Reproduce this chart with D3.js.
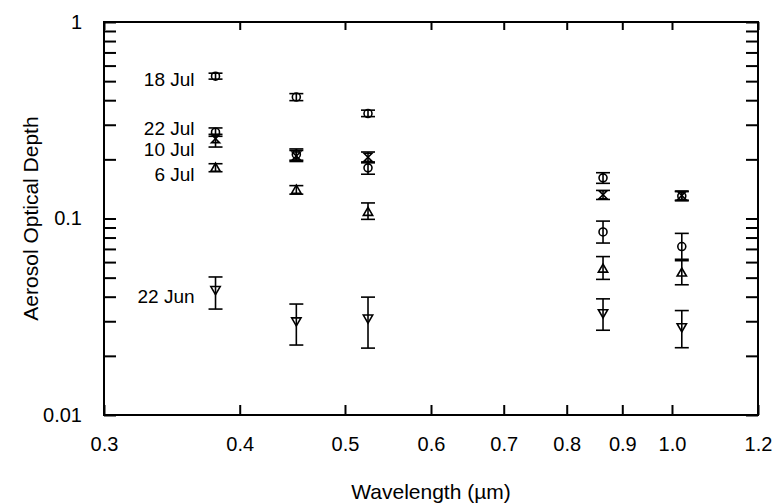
<!DOCTYPE html>
<html>
<head>
<meta charset="utf-8">
<script src="https://cdn.jsdelivr.net/npm/d3@7"></script>
<style>
  body { margin: 0; background: #fff; }
  svg { display: block; font-family: "Liberation Sans", Arial, Helvetica, sans-serif; }
</style>
</head>
<body>
<svg id="chart" width="779" height="504"></svg>
<script>
'use strict';

// sunphotometer channels (um)
const wavelengths = [0.380, 0.451, 0.525, 0.864, 1.021];

const seriesNames = ['18 Jul', '22 Jul', '10 Jul', '6 Jul', '22 Jun'];
const seriesSymbols = ['circle', 'circle', 'hourglass', 'triangleUp', 'triangleDown'];

// aerosol optical depth, with lower / upper error bar ends
const aod18Jul = [0.530, 0.415, 0.342, 0.161, 0.130];
const lo18Jul  = [0.512, 0.398, 0.330, 0.151, 0.124];
const hi18Jul  = [0.549, 0.432, 0.356, 0.171, 0.137];

const aod22Jul = [0.275, 0.212, 0.181, 0.0854, 0.072];
const lo22Jul  = [0.262, 0.198, 0.168, 0.075, 0.062];
const hi22Jul  = [0.289, 0.226, 0.194, 0.097, 0.084];

const aod10Jul = [0.255, 0.208, 0.205, 0.132, 0.131];
const lo10Jul  = [0.231, 0.195, 0.192, 0.125, 0.123];
const hi10Jul  = [0.268, 0.222, 0.218, 0.139, 0.138];

const aod6Jul = [0.181, 0.140, 0.108, 0.0555, 0.053];
const lo6Jul  = [0.173, 0.133, 0.099, 0.049, 0.046];
const hi6Jul  = [0.190, 0.147, 0.120, 0.064, 0.061];

const aod22Jun = [0.0433, 0.0300, 0.0310, 0.0330, 0.0280];
const lo22Jun  = [0.0346, 0.0227, 0.0219, 0.0270, 0.0220];
const hi22Jun  = [0.0504, 0.0367, 0.0398, 0.0390, 0.0340];

const xTickValues = [0.3, 0.4, 0.5, 0.6, 0.7, 0.8, 0.9, 1.0, 1.2];
const xTickLabels = ['0.3', '0.4', '0.5', '0.6', '0.7', '0.8', '0.9', '1.0', '1.2'];
const yTickLabelValues = [1, 0.1, 0.01];
const yTickLabels = ['1', '0.1', '0.01'];

const seriesValues = [aod18Jul, aod22Jul, aod10Jul, aod6Jul, aod22Jun];
const seriesLow = [lo18Jul, lo22Jul, lo10Jul, lo6Jul, lo22Jun];
const seriesHigh = [hi18Jul, hi22Jul, hi10Jul, hi6Jul, hi22Jun];

const margin = {top: 22, right: 21, bottom: 89, left: 104};
const width = 779, height = 504;

const svg = d3.select('#chart');

const x = d3.scaleLog().domain([0.3, 1.2]).range([margin.left, width - margin.right]);
const y = d3.scaleLog().domain([0.01, 1]).range([height - margin.bottom, margin.top]);

// custom symbol shapes
const hourglass = {
    draw(context, size) {
        const r = Math.sqrt(size) / 2;
        context.moveTo(-r, -r);
        context.lineTo(r, -r);
        context.lineTo(-r, r);
        context.lineTo(r, r);
        context.closePath();
    }
};
const triangleDown = {
    draw(context, size) {
        const r = Math.sqrt(size) / 2;
        context.moveTo(-r * 1.1, -r * 0.8);
        context.lineTo(r * 1.1, -r * 0.8);
        context.lineTo(0, r * 1.1);
        context.closePath();
    }
};
const triangleUp = {
    draw(context, size) {
        const r = Math.sqrt(size) / 2;
        context.moveTo(-r * 1.1, r * 0.8);
        context.lineTo(r * 1.1, r * 0.8);
        context.lineTo(0, -r * 1.1);
        context.closePath();
    }
};
const symbolTypes = {circle: d3.symbolCircle, hourglass: hourglass, triangleUp: triangleUp, triangleDown: triangleDown};
const symbolSizes = {circle: 50, hourglass: 64, triangleUp: 72, triangleDown: 72};

// axes (ticks point inward)
const fmtX = d => xTickLabels[xTickValues.indexOf(d)];
const fmtY = d => {
    const i = yTickLabelValues.findIndex(v => Math.abs(v - d) < 1e-9);
    return i < 0 ? '' : yTickLabels[i];
};

const axisStyle = g => {
    g.select('.domain').remove();
    g.selectAll('line').attr('stroke', '#000').attr('stroke-width', 2);
    g.selectAll('text').attr('fill', '#000').attr('font-size', 20).attr('font-family', null);
};

svg.append('g').attr('transform', `translate(0,${y.range()[0]})`)
    .call(d3.axisBottom(x).tickValues(xTickValues).tickFormat(fmtX).tickSize(-10).tickPadding(22))
    .call(axisStyle);
svg.append('g').attr('transform', `translate(0,${y.range()[1]})`)
    .call(d3.axisTop(x).tickValues(xTickValues).tickFormat('').tickSize(-8))
    .call(axisStyle);
svg.append('g').attr('transform', `translate(${x.range()[0]},0)`)
    .call(d3.axisLeft(y).tickFormat(fmtY).tickSize(-12).tickPadding(22))
    .call(axisStyle);
svg.append('g').attr('transform', `translate(${x.range()[1]},0)`)
    .call(d3.axisRight(y).tickFormat('').tickSize(-12))
    .call(axisStyle);

svg.append('rect')
    .attr('x', x.range()[0]).attr('y', y.range()[1])
    .attr('width', x.range()[1] - x.range()[0])
    .attr('height', y.range()[0] - y.range()[1])
    .attr('fill', 'none').attr('stroke', '#000').attr('stroke-width', 2);

// axis titles
svg.append('text')
    .attr('x', (x.range()[0] + x.range()[1]) / 2).attr('y', 499)
    .attr('text-anchor', 'middle').attr('font-size', 21)
    .text('Wavelength (\u00b5m)');
svg.append('text')
    .attr('transform', `translate(38,${(y.range()[0] + y.range()[1]) / 2}) rotate(-90)`)
    .attr('text-anchor', 'middle').attr('font-size', 21)
    .text('Aerosol Optical Depth');

// points with error bars
const capHalf = 7;
seriesNames.forEach((name, s) => {
    const pts = wavelengths.map((w, i) => ({w, v: seriesValues[s][i], lo: seriesLow[s][i], hi: seriesHigh[s][i]}));
    const g = svg.append('g').attr('class', 'series');
    const eb = g.selectAll('g.err').data(pts).join('g').attr('class', 'err')
        .attr('stroke', '#000').attr('stroke-width', 1.6);
    eb.append('line')
        .attr('x1', d => x(d.w)).attr('x2', d => x(d.w))
        .attr('y1', d => y(d.lo)).attr('y2', d => y(d.hi));
    eb.append('line')
        .attr('x1', d => x(d.w) - capHalf).attr('x2', d => x(d.w) + capHalf)
        .attr('y1', d => y(d.lo)).attr('y2', d => y(d.lo));
    eb.append('line')
        .attr('x1', d => x(d.w) - capHalf).attr('x2', d => x(d.w) + capHalf)
        .attr('y1', d => y(d.hi)).attr('y2', d => y(d.hi));

    const sym = seriesSymbols[s];
    g.selectAll('path.pt').data(pts).join('path').attr('class', 'pt')
        .attr('transform', d => `translate(${x(d.w)},${y(d.v)})`)
        .attr('d', d3.symbol().type(symbolTypes[sym]).size(symbolSizes[sym]))
        .attr('fill', 'none').attr('stroke', '#000').attr('stroke-width', 1.6);
});

// series labels beside the first channel
const labelDy = [3, -4, 11, 6, 6];
seriesNames.forEach((name, s) => {
    svg.append('text')
        .attr('x', x(wavelengths[0]) - 21)
        .attr('y', y(seriesValues[s][0]) + labelDy[s])
        .attr('dy', '0.35em')
        .attr('text-anchor', 'end').attr('font-size', 19)
        .text(name);
});
</script>
</body>
</html>
